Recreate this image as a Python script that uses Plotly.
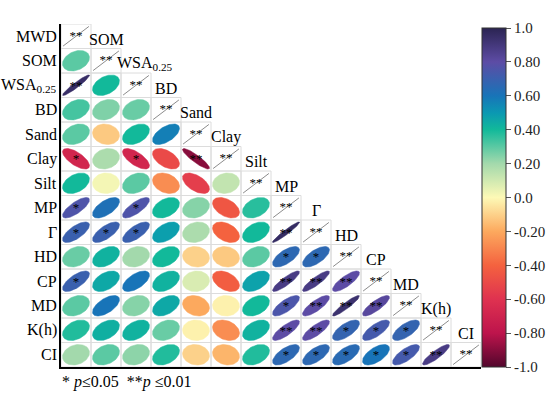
import numpy as np
import plotly.graph_objects as go

# ---------------- data ----------------
labels = ["MWD", "SOM", "WSA<sub>0.25</sub>", "BD", "Sand", "Clay", "Silt",
          "MP", "Γ", "HD", "CP", "MD", "K(h)", "CI"]

# lower-triangle correlations (row i, columns 0..i-1)
r_SOM  = [0.30]
r_WSA  = [0.95, 0.40]
r_BD   = [0.33, 0.25, 0.28]
r_Sand = [0.30, -0.12, 0.40, 0.57]
r_Clay = [-0.68, 0.18, -0.68, -0.50, -0.90]
r_Silt = [0.40, 0.02, 0.30, -0.28, -0.55, 0.13]
r_MP   = [0.76, 0.62, 0.76, 0.40, 0.24, -0.45, 0.37]
r_G    = [0.70, 0.70, 0.70, 0.48, 0.18, -0.40, 0.40, 0.96]
r_HD   = [0.28, 0.42, 0.20, 0.40, -0.10, -0.12, 0.30, 0.66, 0.66]
r_CP   = [0.70, 0.45, 0.60, 0.42, 0.08, -0.42, 0.47, 0.88, 0.88, 0.80]
r_MD   = [0.30, 0.60, 0.24, 0.45, -0.20, -0.02, 0.40, 0.75, 0.80, 0.93, 0.82]
r_Kh   = [0.38, 0.43, 0.42, 0.28, -0.02, -0.28, 0.42, 0.80, 0.80, 0.68, 0.73, 0.68]
r_CI   = [0.20, 0.30, 0.23, 0.38, -0.10, -0.17, 0.38, 0.66, 0.66, 0.65, 0.60, 0.73, 0.88]

# significance marks for the same cells
s_SOM  = [""]
s_WSA  = ["**", ""]
s_BD   = ["", "", ""]
s_Sand = ["", "", "", ""]
s_Clay = ["*", "", "*", "", "**"]
s_Silt = ["", "", "", "", "", ""]
s_MP   = ["*", "", "*", "", "", "", ""]
s_G    = ["*", "*", "*", "", "", "", "", "**"]
s_HD   = ["", "", "", "", "", "", "", "*", "*"]
s_CP   = ["*", "", "", "", "", "", "", "**", "**", "**"]
s_MD   = ["", "", "", "", "", "", "", "*", "**", "**", "**"]
s_Kh   = ["", "", "", "", "", "", "", "**", "**", "*", "*", "*"]
s_CI   = ["", "", "", "", "", "", "", "*", "*", "*", "*", "*", "**"]

corr_rows = [[], r_SOM, r_WSA, r_BD, r_Sand, r_Clay, r_Silt, r_MP, r_G,
             r_HD, r_CP, r_MD, r_Kh, r_CI]
sig_rows = [[], s_SOM, s_WSA, s_BD, s_Sand, s_Clay, s_Silt, s_MP, s_G,
            s_HD, s_CP, s_MD, s_Kh, s_CI]

cbar_vals = [1.0, 0.8, 0.6, 0.4, 0.2, 0.0, -0.2, -0.4, -0.6, -0.8, -1.0]
cbar_text = ["1.0", "0.80", "0.60", "0.40", "0.20", "0.0", "-0.20", "-0.40",
             "-0.60", "-0.80", "-1.0"]

# ---------------- colours ----------------
cs_vals = [-1.0, -0.8, -0.6, -0.4, -0.2, 0.0, 0.2, 0.4, 0.5, 0.6, 0.8, 1.0]
cs_hex = ["#52062c", "#bd144c", "#df3250", "#f4623f", "#fca95e", "#fdf9b6",
          "#a3d9ac", "#12b99a", "#0b98b2", "#1874b8", "#5d4ca5", "#2b2452"]
colorscale = [[(v + 1) / 2, h] for v, h in zip(cs_vals, cs_hex)]


def hex2rgb(h):
    h = h.lstrip("#")
    return np.array([int(h[i:i + 2], 16) for i in (0, 2, 4)], dtype=float)


cs_rgb = [hex2rgb(h) for h in cs_hex]


def color_of(v):
    for k in range(len(cs_vals) - 1):
        if cs_vals[k] <= v <= cs_vals[k + 1]:
            t = (v - cs_vals[k]) / (cs_vals[k + 1] - cs_vals[k])
            c = cs_rgb[k] * (1 - t) + cs_rgb[k + 1] * t
            return "rgb(%d,%d,%d)" % tuple(np.round(c))
    return cs_hex[-1]


FONT = "Liberation Serif"
n = len(labels)
fig = go.Figure()

# ---------------- ellipses ----------------
t = np.linspace(0, 2 * np.pi, 80)
sx, sy = 0.45, 0.42
star_x, star_y, star_t = [], [], []
for i in range(n):
    for j, v in enumerate(corr_rows[i]):
        d = np.arccos(np.clip(v, -0.999, 0.999))
        ex = j + sx * np.cos(t + d / 2)
        ey = i - sy * np.cos(t - d / 2)
        col = color_of(v)
        fig.add_trace(go.Scatter(x=ex, y=ey, mode="lines", fill="toself",
                                 fillcolor=col, line=dict(color=col, width=0.5),
                                 hoverinfo="skip", showlegend=False))
        if sig_rows[i][j]:
            star_x.append(j)
            star_y.append(i + 0.06)
            star_t.append(sig_rows[i][j])

# ---------------- diagonal ----------------
dx, dy = [], []
for k in range(n):
    dx += [k - 0.43, k + 0.43, None]
    dy += [k + 0.40, k - 0.40, None]
    star_x.append(k)
    star_y.append(k + 0.02)
    star_t.append("**")
fig.add_trace(go.Scatter(x=dx, y=dy, mode="lines",
                         line=dict(color="#8c8c8c", width=1),
                         hoverinfo="skip", showlegend=False))
fig.add_trace(go.Scatter(x=star_x, y=star_y, mode="text", text=star_t,
                         textposition="middle center",
                         textfont=dict(family=FONT, size=13, color="black"),
                         hoverinfo="skip", showlegend=False))

# ---------------- colorbar ----------------
fig.add_trace(go.Scatter(
    x=[None], y=[None], mode="markers", showlegend=False, hoverinfo="skip",
    marker=dict(color=[0], colorscale=colorscale, cmin=-1, cmax=1,
                showscale=True,
                colorbar=dict(x=1.002, xanchor="left", xpad=0, ypad=0,
                              y=0, yanchor="bottom", len=0.988,
                              lenmode="fraction", thickness=24,
                              outlinewidth=1, outlinecolor="#333333",
                              tickvals=cbar_vals, ticktext=cbar_text,
                              ticks="outside", ticklen=5, tickcolor="#555555",
                              tickfont=dict(family=FONT, size=15,
                                            color="#222222")))))

# ---------------- grid cells ----------------
shapes = []
for i in range(n):
    for j in range(i + 1):
        shapes.append(dict(type="rect", xref="x", yref="y",
                           x0=j - 0.5, x1=j + 0.5, y0=i - 0.5, y1=i + 0.5,
                           line=dict(color="#dcdcdc", width=1),
                           fillcolor="rgba(0,0,0,0)", layer="below"))

# ---------------- labels ----------------
annotations = []
for i, lab in enumerate(labels):
    annotations.append(dict(x=-0.5, y=i, xref="x", yref="y", text=lab,
                            xanchor="right", yanchor="middle", xshift=-2,
                            showarrow=False,
                            font=dict(family=FONT, size=16, color="black")))
    annotations.append(dict(x=i, y=i - 1, xref="x", yref="y", text=lab,
                            xanchor="center", yanchor="middle", yshift=-3,
                            xshift=9 if "sub" in lab else 0,
                            showarrow=False,
                            font=dict(family=FONT, size=16, color="black")))
annotations.append(dict(x=0, y=0, xref="paper", yref="paper",
                        text="* <i>p</i>≤0.05&nbsp;&nbsp;**<i>p</i> ≤0.01",
                        xanchor="left", yanchor="top", yshift=-4, xshift=-1,
                        showarrow=False,
                        font=dict(family=FONT, size=16, color="black")))

fig.update_layout(
    width=550, height=395,
    margin=dict(l=61, r=69, t=24, b=28, autoexpand=False),
    paper_bgcolor="white", plot_bgcolor="white",
    font=dict(family=FONT),
    shapes=shapes, annotations=annotations,
    xaxis=dict(range=[-0.5, n - 0.5], showgrid=False, zeroline=False,
               showticklabels=False, ticks="", showline=True,
               linecolor="black", linewidth=1.5, fixedrange=True),
    yaxis=dict(range=[n - 0.5, -0.5], showgrid=False, zeroline=False,
               showticklabels=False, ticks="", showline=True,
               linecolor="black", linewidth=1.5, fixedrange=True),
)

fig.write_html("out.html", config={"displayModeBar": False},
               post_script="document.body.style.margin='0';"
                           "document.body.style.padding='0';"
                           "document.documentElement.style.overflow='hidden';")
